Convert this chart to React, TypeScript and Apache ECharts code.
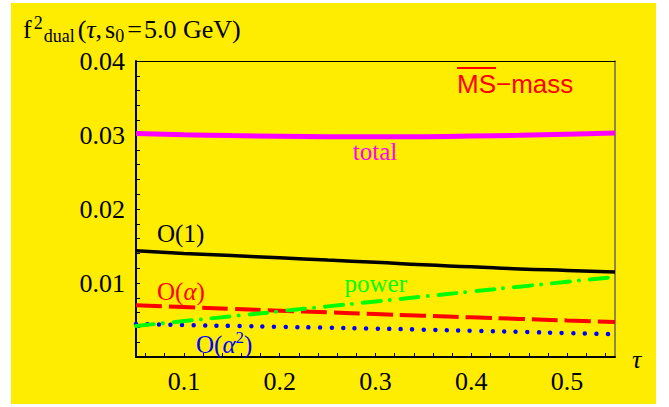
import React, { useEffect, useRef } from 'react';
import * as echarts from 'echarts';

// ---- data ----
const tau = [0.05, 0.1, 0.15, 0.2, 0.25, 0.3, 0.35, 0.4, 0.45, 0.5, 0.55];
const totalVals = [0.0302, 0.03005, 0.02992, 0.02983, 0.02977, 0.02975, 0.02977, 0.02985, 0.02995, 0.0301, 0.03028];
const order1Vals = [0.01437, 0.014, 0.0137, 0.0134, 0.0131, 0.0128, 0.01245, 0.0122, 0.0119, 0.0117, 0.0115];
const orderAlphaVals = [0.007, 0.00675, 0.0065, 0.00626, 0.00603, 0.0058, 0.00558, 0.00536, 0.00515, 0.00494, 0.00474];
const orderAlpha2Vals = [0.00445, 0.00432, 0.0042, 0.00408, 0.00396, 0.00384, 0.0037, 0.00354, 0.0034, 0.00323, 0.00307];
const powerVals = [0.0042, 0.00485, 0.0055, 0.00617, 0.00684, 0.0075, 0.00817, 0.00884, 0.0095, 0.01016, 0.01082];

const xLabelValues = [0.1, 0.2, 0.3, 0.4, 0.5];
const xTickValues = [0.06, 0.08, 0.1, 0.12, 0.14, 0.16, 0.18, 0.2, 0.22, 0.24, 0.26, 0.28, 0.3, 0.32, 0.34, 0.36, 0.38, 0.4, 0.42, 0.44, 0.46, 0.48, 0.5, 0.52, 0.54];
const yLabelValues = [0.01, 0.02, 0.03, 0.04];
const yTickValues = [0.002, 0.004, 0.006, 0.008, 0.01, 0.012, 0.014, 0.016, 0.018, 0.02, 0.022, 0.024, 0.026, 0.028, 0.03, 0.032, 0.034, 0.036, 0.038];

const SERIF = 'Liberation Serif';
const SANS = 'Liberation Sans';
const CENTRAL = 0.34;

let mctx: CanvasRenderingContext2D | null = null;
function measure(t: string, font: string): number {
  if (!mctx) mctx = document.createElement('canvas').getContext('2d');
  if (!mctx) return t.length * 10;
  mctx.font = font;
  return mctx.measureText(t).width;
}

function fontOf(size: number, italic: boolean, family: string) {
  return `${italic ? 'italic ' : ''}${size}px "${family}"`;
}

function txt(t: string, x: number, baseline: number, size: number, color: string, italic = false, family = SERIF, align = 'left') {
  return {
    type: 'text',
    x,
    y: baseline - CENTRAL * size,
    z: 100,
    silent: true,
    style: {
      text: t,
      fill: color,
      font: fontOf(size, italic, family),
      textAlign: align,
      textVerticalAlign: 'middle',
      align,
      verticalAlign: 'middle',
    },
  };
}

type Piece = { t: string; size: number; italic?: boolean; dy?: number; gap?: number };
function run(pieces: Piece[], x0: number, baseline: number, color: string, family = SERIF) {
  const out: any[] = [];
  let x = x0;
  for (const p of pieces) {
    x += p.gap || 0;
    out.push(txt(p.t, x, baseline + (p.dy || 0), p.size, color, !!p.italic, family));
    x += measure(p.t, fontOf(p.size, !!p.italic, family));
  }
  return out;
}

const pairs = (vals: number[]) => tau.map((t, i) => [t, vals[i]]);

export default function App() {
  const ref = useRef<HTMLDivElement>(null);
  useEffect(() => {
    document.body.style.margin = '0';
    if (!ref.current) return;
    const chart = echarts.init(ref.current, null, { renderer: 'svg' });

    const msFont = fontOf(26, false, SANS);
    const msX = 457;
    const msW = measure('MS', msFont);

    const title = run([
      { t: 'f', size: 26 },
      { t: '2', size: 18, dy: -9, gap: 2 },
      { t: 'dual', size: 18, dy: 4, gap: 1 },
      { t: '(', size: 26, gap: 3 },
      { t: 'τ', size: 26, italic: true },
      { t: ',', size: 26 },
      { t: 's', size: 26, gap: 3 },
      { t: '0', size: 18, dy: 4 },
      { t: '=', size: 26, gap: 3 },
      { t: '5.0 GeV)', size: 26, gap: 2 },
    ], 23, 38.5, '#000');

    const graphics: any[] = [
      { type: 'rect', z: -100, silent: true, shape: { x: 11, y: 3, width: 645, height: 401 }, style: { fill: '#FFED00' } },
      ...title,
      // MS-mass
      txt('MS−mass', msX, 93, 26, '#FF0000', false, SANS),
      { type: 'line', z: 100, silent: true, shape: { x1: msX, y1: 68, x2: msX + msW, y2: 68 }, style: { stroke: '#FF0000', lineWidth: 2 } },
      // curve labels
      txt('total', 375, 160, 25, '#FF00FF', false, SERIF, 'center'),
      txt('O(1)', 157, 242, 25, '#000'),
      txt('power', 407, 292, 25, '#00FF00', false, SERIF, 'right'),
      ...run([{ t: 'O(', size: 25 }, { t: 'α', size: 25, italic: true }, { t: ')', size: 25 }], 157, 300, '#FF0000'),
      ...run([{ t: 'O(', size: 25 }, { t: 'α', size: 25, italic: true }, { t: '2', size: 17, dy: -10 }, { t: ')', size: 25 }], 196, 353, '#0000FF'),
      // axis name
      txt('τ', 632, 368, 26, '#000', true),
    ];

    const lineSeries = (name: string, vals: number[], color: string, width: number, type: any, cap: string, z: number) => ({
      name,
      type: 'line',
      data: pairs(vals),
      showSymbol: false,
      smooth: true,
      z,
      lineStyle: { color, width, type, cap },
      emphasis: { disabled: true },
    });

    chart.setOption({
      animation: false,
      backgroundColor: '#FFFFFF',
      grid: { left: 136, right: 54, top: 61, bottom: 50, outerBoundsMode: 'none' },
      xAxis: [
        {
          type: 'value', min: 0.05, max: 0.55, position: 'bottom',
          axisLine: { show: true, onZero: false, lineStyle: { color: '#000', width: 2 } },
          axisTick: { show: true, inside: true, length: 4, customValues: xTickValues, lineStyle: { color: '#000', width: 1 } },
          axisLabel: { customValues: xLabelValues, formatter: (v: number) => v.toFixed(1), fontFamily: SERIF, fontSize: 26, color: '#000', margin: 11 },
          splitLine: { show: false },
        },
        {
          type: 'value', min: 0.05, max: 0.55, position: 'top',
          axisLine: { show: true, onZero: false, lineStyle: { color: '#000', width: 1 } },
          axisTick: { show: false }, axisLabel: { show: false }, splitLine: { show: false },
        },
      ],
      yAxis: [
        {
          type: 'value', min: 0, max: 0.04, interval: 0.01, position: 'left',
          axisLine: { show: true, onZero: false, lineStyle: { color: '#000', width: 2 } },
          axisTick: { show: true, inside: true, length: 4, customValues: yTickValues, lineStyle: { color: '#000', width: 1 } },
          axisLabel: { customValues: yLabelValues, formatter: (v: number) => v.toFixed(2), fontFamily: SERIF, fontSize: 26, color: '#000', margin: 11 },
          splitLine: { show: false },
        },
        {
          type: 'value', min: 0, max: 0.04, position: 'right',
          axisLine: { show: true, onZero: false, lineStyle: { color: '#666', width: 1.5 } },
          axisTick: { show: false }, axisLabel: { show: false }, splitLine: { show: false },
        },
      ],
      series: [
        lineSeries('O(α²)', orderAlpha2Vals, '#0000FF', 4.5, [0.01, 11.5], 'round', 3),
        lineSeries('O(α)', orderAlphaVals, '#FF0000', 4, [26, 7], 'butt', 4),
        lineSeries('power', powerVals, '#00FF00', 4, [18, 9, 0.01, 11], 'round', 5),
        lineSeries('O(1)', order1Vals, '#000000', 3.5, 'solid', 'butt', 6),
        lineSeries('total', totalVals, '#FF00FF', 5, 'solid', 'butt', 7),
      ],
      graphic: { elements: graphics },
    });
    return () => chart.dispose();
  }, []);
  return <div ref={ref} style={{ width: 669, height: 407 }} />;
}
